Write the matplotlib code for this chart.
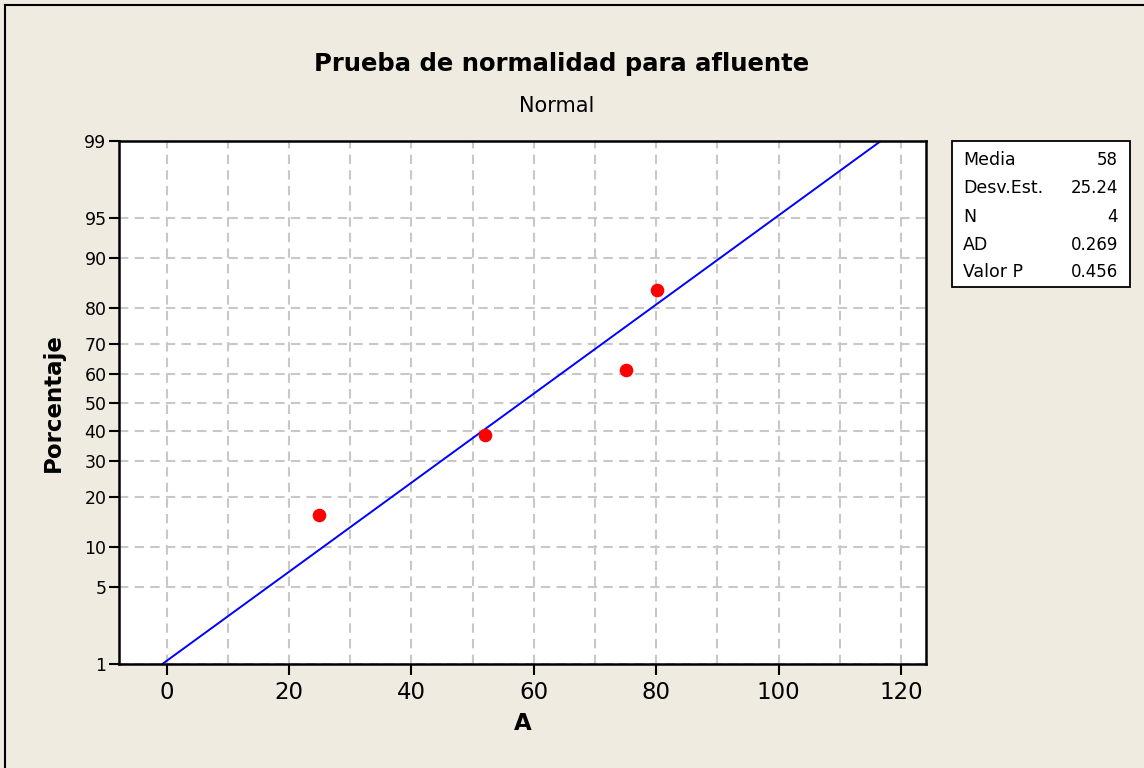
import numpy as np
import matplotlib
matplotlib.use("Agg")
import matplotlib.pyplot as plt
from matplotlib.patches import Rectangle
from matplotlib.lines import Line2D
from statistics import NormalDist

# ---- data ----
values = [24.9, 52.0, 75.0, 80.1]          # A
percent = [15.9, 38.6, 61.4, 84.1]         # plotted percentages
fit_mean = 58.0
fit_sd = 25.24
fit_p = [1.0, 99.0]
y_ticks = [1, 5, 10, 20, 30, 40, 50, 60, 70, 80, 90, 95, 99]
x_ticks = [0, 20, 40, 60, 80, 100, 120]
x_grid = [0, 10, 20, 30, 40, 50, 60, 70, 80, 90, 100, 110, 120]
stats_labels = ["Media", "Desv.Est.", "N", "AD", "Valor P"]
stats_values = ["58", "25.24", "4", "0.269", "0.456"]
title = "Prueba de normalidad para afluente"
subtitle = "Normal"

nd = NormalDist()
_ppf = np.vectorize(nd.inv_cdf, otypes=[float])
_cdf = np.vectorize(nd.cdf, otypes=[float])
def fwd(p):
    p = np.asarray(p, dtype=float)
    q = np.clip(p / 100.0, 1e-9, 1 - 1e-9)
    return _ppf(q)
def inv(z):
    z = np.asarray(z, dtype=float)
    return _cdf(z) * 100.0

BG = "#EFEBE1"
fig = plt.figure(figsize=(11.44, 7.68), dpi=100, facecolor=BG)
W, H = 1144, 768
# figure border: top and left only
fig.lines.append(Line2D([5 / W, 1], [1 - 5 / H, 1 - 5 / H], transform=fig.transFigure,
                        color="black", lw=1.5))
fig.lines.append(Line2D([5 / W, 5 / W], [0, 1 - 5 / H], transform=fig.transFigure,
                        color="black", lw=1.5))

L, R, T, B = 119, 926, 141, 664
ax = fig.add_axes([L / W, 1 - B / H, (R - L) / W, (B - T) / H])
ax.set_facecolor("white")
ax.set_yscale("function", functions=(fwd, inv))
ax.set_ylim(1, 99)
ax.set_xlim(-7.8, 124.1)

GRID = "#C8C8C8"
for xg in x_grid:
    ax.axvline(xg, color=GRID, lw=1.5, ls=(0, (4.5, 3)), zorder=0)
for yg in y_ticks:
    ax.axhline(yg, color=GRID, lw=1.5, ls=(0, (4.5, 3)), zorder=0)

fit_x = [fit_mean + fit_sd * nd.inv_cdf(p / 100.0) for p in fit_p]
ax.plot(fit_x, fit_p, color="#0000FF", lw=1.4, zorder=2)
ax.plot(values, percent, "o", color="#FF0000", markersize=9.8, zorder=3,
        markeredgewidth=0)

ax.set_yticks(y_ticks)
ax.set_yticklabels([str(v) for v in y_ticks])
ax.yaxis.set_minor_locator(matplotlib.ticker.NullLocator())
ax.set_xticks(x_ticks)
ax.tick_params(axis="y", length=7, width=1.5, labelsize=12.5, pad=2)
ax.tick_params(axis="x", length=8, width=1.5, labelsize=16.5, pad=4)
for s in ax.spines.values():
    s.set_linewidth(1.8)

ax.set_xlabel("A", fontsize=16.5, fontweight="bold", labelpad=6)
ax.set_ylabel("Porcentaje", fontsize=16.5, fontweight="bold", labelpad=14)

fig.text(562 / W, 1 - 71.5 / H, title, fontsize=17.5, fontweight="bold",
         ha="center", va="baseline")
fig.text(557 / W, 1 - 111.5 / H, subtitle, fontsize=15, ha="center", va="baseline")

# stats box
bx0, by0, bx1, by1 = 952, 141, 1130, 287
fig.patches.append(Rectangle((bx0 / W, 1 - by1 / H), (bx1 - bx0) / W,
                             (by1 - by0) / H, transform=fig.transFigure,
                             facecolor="white", edgecolor="black", lw=1.3))
row_y = [160, 188, 217, 245, 272]
for lab, val, yy in zip(stats_labels, stats_values, row_y):
    fig.text(963 / W, 1 - yy / H, lab, fontsize=12.5, ha="left", va="center")
    fig.text(1118 / W, 1 - yy / H, val, fontsize=12, ha="right", va="center")

fig.savefig("out.png", dpi=100, facecolor=BG)
